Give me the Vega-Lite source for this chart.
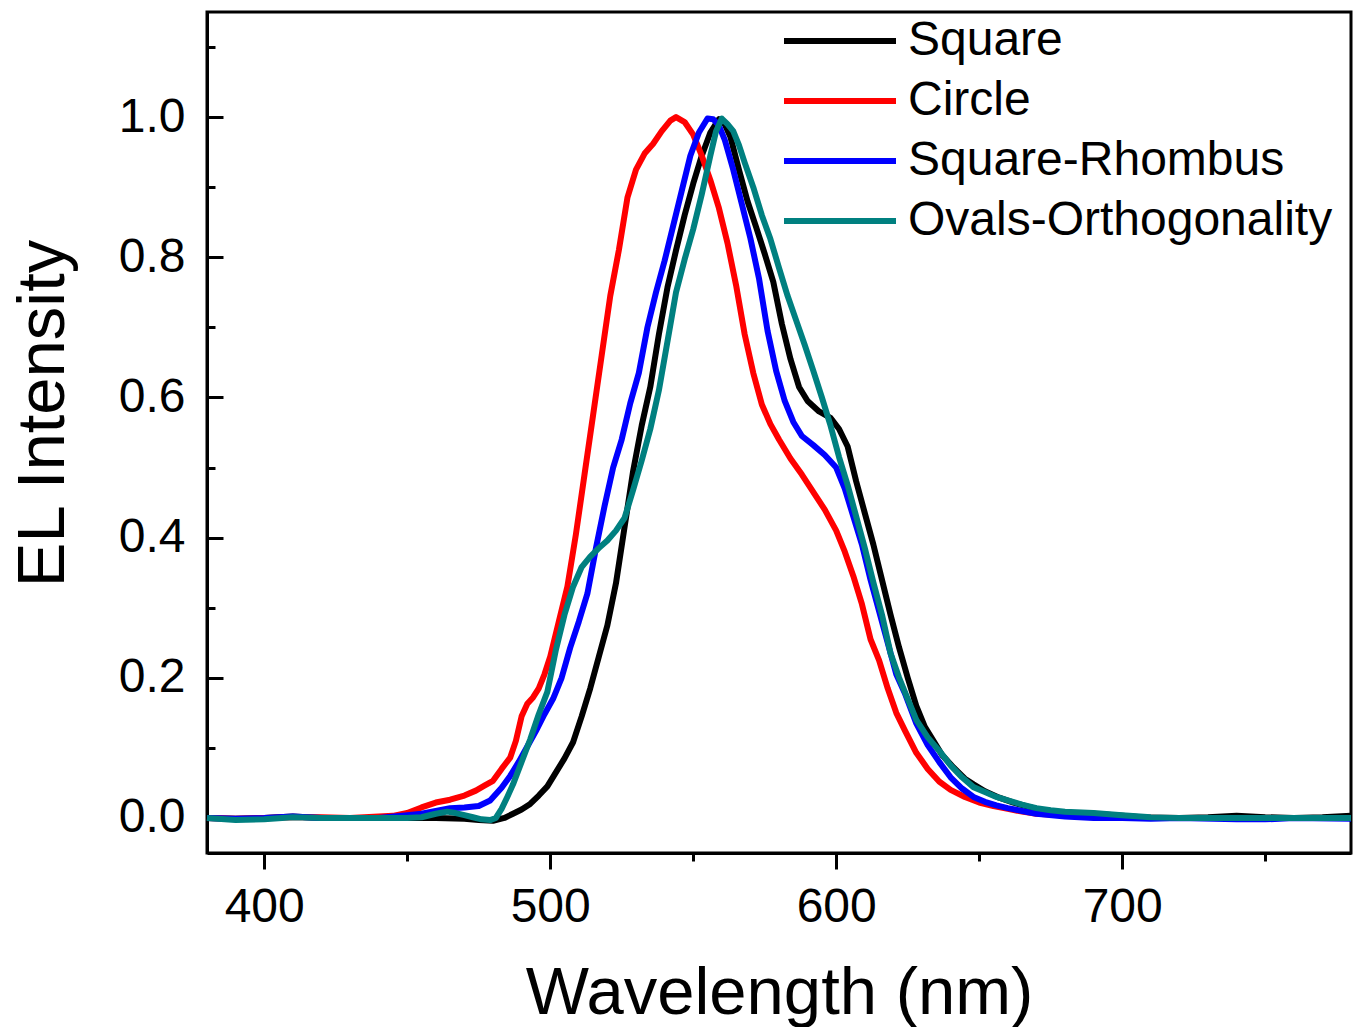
{
  "$schema": "https://vega.github.io/schema/vega-lite/v6.json",
  "width": 1144,
  "height": 841,
  "autosize": "none",
  "padding": {"left": 207, "top": 12, "right": 8, "bottom": 174},
  "background": "white",
  "config": {
    "font": "Liberation Sans",
    "view": {"stroke": "black", "strokeWidth": 3},
    "line": {"strokeWidth": 6, "strokeJoin": "round", "clip": true},
    "axis": {"domainColor": "black", "domainWidth": 3, "tickColor": "black", "tickWidth": 3, "labelColor": "black", "titleColor": "black", "grid": false, "labelFontSize": 48, "titleFontSize": 67, "titleFontWeight": "normal", "labelFont": "Liberation Sans", "titleFont": "Liberation Sans"},
    "legend": {"orient": "none", "legendX": 602, "legendY": -2, "title": null, "symbolType": "M-2,0H2", "symbolSize": 3136, "symbolStrokeWidth": 6, "labelFontSize": 48, "labelFont": "Liberation Sans", "labelColor": "black", "labelOffset": 37, "rowPadding": 5, "labelLimit": 600}
  },
  "datasets": {
    "spectra": [
      {"s":"Square","w":380,"i":0.0},{"s":"Square","w":390,"i":-0.001},{"s":"Square","w":400,"i":0.0},{"s":"Square","w":410,"i":0.002},{"s":"Square","w":420,"i":0.0},{"s":"Square","w":430,"i":0.0},{"s":"Square","w":440,"i":0.0},{"s":"Square","w":450,"i":0.0},{"s":"Square","w":460,"i":0.0},{"s":"Square","w":470,"i":-0.001},{"s":"Square","w":475,"i":-0.003},{"s":"Square","w":480,"i":-0.004},{"s":"Square","w":484,"i":0.0},{"s":"Square","w":487,"i":0.006},{"s":"Square","w":490,"i":0.012},{"s":"Square","w":493,"i":0.02},{"s":"Square","w":496,"i":0.032},{"s":"Square","w":499,"i":0.045},{"s":"Square","w":502,"i":0.065},{"s":"Square","w":505,"i":0.085},{"s":"Square","w":508,"i":0.108},{"s":"Square","w":511,"i":0.145},{"s":"Square","w":514,"i":0.185},{"s":"Square","w":517,"i":0.23},{"s":"Square","w":520,"i":0.275},{"s":"Square","w":523,"i":0.335},{"s":"Square","w":526,"i":0.415},{"s":"Square","w":529,"i":0.495},{"s":"Square","w":532,"i":0.56},{"s":"Square","w":535,"i":0.615},{"s":"Square","w":538,"i":0.69},{"s":"Square","w":541,"i":0.757},{"s":"Square","w":544,"i":0.81},{"s":"Square","w":547,"i":0.86},{"s":"Square","w":550,"i":0.905},{"s":"Square","w":553,"i":0.945},{"s":"Square","w":556,"i":0.978},{"s":"Square","w":559,"i":0.997},{"s":"Square","w":561,"i":0.99},{"s":"Square","w":563,"i":0.972},{"s":"Square","w":566,"i":0.925},{"s":"Square","w":569,"i":0.88},{"s":"Square","w":572,"i":0.843},{"s":"Square","w":575,"i":0.805},{"s":"Square","w":578,"i":0.765},{"s":"Square","w":581,"i":0.705},{"s":"Square","w":584,"i":0.655},{"s":"Square","w":587,"i":0.615},{"s":"Square","w":590,"i":0.595},{"s":"Square","w":594,"i":0.58},{"s":"Square","w":598,"i":0.571},{"s":"Square","w":601,"i":0.555},{"s":"Square","w":604,"i":0.53},{"s":"Square","w":607,"i":0.48},{"s":"Square","w":610,"i":0.435},{"s":"Square","w":613,"i":0.39},{"s":"Square","w":616,"i":0.34},{"s":"Square","w":619,"i":0.29},{"s":"Square","w":622,"i":0.243},{"s":"Square","w":625,"i":0.2},{"s":"Square","w":628,"i":0.16},{"s":"Square","w":631,"i":0.13},{"s":"Square","w":634,"i":0.11},{"s":"Square","w":637,"i":0.09},{"s":"Square","w":641,"i":0.072},{"s":"Square","w":645,"i":0.056},{"s":"Square","w":648,"i":0.048},{"s":"Square","w":652,"i":0.038},{"s":"Square","w":657,"i":0.029},{"s":"Square","w":662,"i":0.022},{"s":"Square","w":667,"i":0.016},{"s":"Square","w":672,"i":0.011},{"s":"Square","w":680,"i":0.007},{"s":"Square","w":690,"i":0.006},{"s":"Square","w":700,"i":0.003},{"s":"Square","w":710,"i":0.0},{"s":"Square","w":720,"i":0.0},{"s":"Square","w":730,"i":0.001},{"s":"Square","w":740,"i":0.003},{"s":"Square","w":750,"i":0.001},{"s":"Square","w":760,"i":0.0},{"s":"Square","w":770,"i":0.001},{"s":"Square","w":780,"i":0.003},
      {"s":"Circle","w":380,"i":0.0},{"s":"Circle","w":390,"i":-0.001},{"s":"Circle","w":400,"i":0.0},{"s":"Circle","w":410,"i":0.001},{"s":"Circle","w":420,"i":0.001},{"s":"Circle","w":430,"i":0.0},{"s":"Circle","w":440,"i":0.002},{"s":"Circle","w":445,"i":0.003},{"s":"Circle","w":450,"i":0.007},{"s":"Circle","w":455,"i":0.015},{"s":"Circle","w":460,"i":0.022},{"s":"Circle","w":465,"i":0.026},{"s":"Circle","w":470,"i":0.032},{"s":"Circle","w":474,"i":0.039},{"s":"Circle","w":477,"i":0.046},{"s":"Circle","w":480,"i":0.053},{"s":"Circle","w":483,"i":0.07},{"s":"Circle","w":486,"i":0.086},{"s":"Circle","w":488,"i":0.11},{"s":"Circle","w":490,"i":0.145},{"s":"Circle","w":492,"i":0.163},{"s":"Circle","w":494,"i":0.172},{"s":"Circle","w":496,"i":0.185},{"s":"Circle","w":498,"i":0.205},{"s":"Circle","w":500,"i":0.23},{"s":"Circle","w":503,"i":0.28},{"s":"Circle","w":506,"i":0.33},{"s":"Circle","w":509,"i":0.405},{"s":"Circle","w":512,"i":0.49},{"s":"Circle","w":515,"i":0.575},{"s":"Circle","w":518,"i":0.66},{"s":"Circle","w":521,"i":0.745},{"s":"Circle","w":524,"i":0.81},{"s":"Circle","w":527,"i":0.885},{"s":"Circle","w":530,"i":0.925},{"s":"Circle","w":533,"i":0.948},{"s":"Circle","w":536,"i":0.962},{"s":"Circle","w":539,"i":0.98},{"s":"Circle","w":542,"i":0.995},{"s":"Circle","w":544,"i":1.0},{"s":"Circle","w":547,"i":0.993},{"s":"Circle","w":550,"i":0.975},{"s":"Circle","w":553,"i":0.945},{"s":"Circle","w":556,"i":0.91},{"s":"Circle","w":559,"i":0.87},{"s":"Circle","w":562,"i":0.82},{"s":"Circle","w":565,"i":0.76},{"s":"Circle","w":568,"i":0.69},{"s":"Circle","w":571,"i":0.635},{"s":"Circle","w":574,"i":0.59},{"s":"Circle","w":577,"i":0.562},{"s":"Circle","w":580,"i":0.54},{"s":"Circle","w":584,"i":0.513},{"s":"Circle","w":588,"i":0.49},{"s":"Circle","w":592,"i":0.465},{"s":"Circle","w":596,"i":0.44},{"s":"Circle","w":600,"i":0.41},{"s":"Circle","w":603,"i":0.38},{"s":"Circle","w":606,"i":0.345},{"s":"Circle","w":609,"i":0.305},{"s":"Circle","w":612,"i":0.255},{"s":"Circle","w":615,"i":0.225},{"s":"Circle","w":618,"i":0.185},{"s":"Circle","w":621,"i":0.15},{"s":"Circle","w":624,"i":0.125},{"s":"Circle","w":628,"i":0.093},{"s":"Circle","w":632,"i":0.07},{"s":"Circle","w":636,"i":0.052},{"s":"Circle","w":640,"i":0.04},{"s":"Circle","w":645,"i":0.03},{"s":"Circle","w":650,"i":0.022},{"s":"Circle","w":655,"i":0.017},{"s":"Circle","w":660,"i":0.013},{"s":"Circle","w":665,"i":0.009},{"s":"Circle","w":670,"i":0.006},{"s":"Circle","w":680,"i":0.004},{"s":"Circle","w":690,"i":0.003},{"s":"Circle","w":700,"i":0.001},{"s":"Circle","w":720,"i":0.0},{"s":"Circle","w":740,"i":0.0},{"s":"Circle","w":760,"i":0.0},{"s":"Circle","w":780,"i":0.0},
      {"s":"Square-Rhombus","w":380,"i":0.0},{"s":"Square-Rhombus","w":390,"i":-0.001},{"s":"Square-Rhombus","w":400,"i":0.0},{"s":"Square-Rhombus","w":410,"i":0.002},{"s":"Square-Rhombus","w":420,"i":0.0},{"s":"Square-Rhombus","w":430,"i":0.0},{"s":"Square-Rhombus","w":440,"i":0.0},{"s":"Square-Rhombus","w":450,"i":0.004},{"s":"Square-Rhombus","w":455,"i":0.006},{"s":"Square-Rhombus","w":460,"i":0.01},{"s":"Square-Rhombus","w":465,"i":0.014},{"s":"Square-Rhombus","w":470,"i":0.015},{"s":"Square-Rhombus","w":475,"i":0.017},{"s":"Square-Rhombus","w":479,"i":0.025},{"s":"Square-Rhombus","w":483,"i":0.043},{"s":"Square-Rhombus","w":486,"i":0.06},{"s":"Square-Rhombus","w":489,"i":0.08},{"s":"Square-Rhombus","w":492,"i":0.102},{"s":"Square-Rhombus","w":495,"i":0.124},{"s":"Square-Rhombus","w":498,"i":0.148},{"s":"Square-Rhombus","w":501,"i":0.17},{"s":"Square-Rhombus","w":504,"i":0.2},{"s":"Square-Rhombus","w":507,"i":0.243},{"s":"Square-Rhombus","w":510,"i":0.28},{"s":"Square-Rhombus","w":513,"i":0.32},{"s":"Square-Rhombus","w":516,"i":0.385},{"s":"Square-Rhombus","w":519,"i":0.445},{"s":"Square-Rhombus","w":522,"i":0.5},{"s":"Square-Rhombus","w":525,"i":0.54},{"s":"Square-Rhombus","w":528,"i":0.592},{"s":"Square-Rhombus","w":531,"i":0.635},{"s":"Square-Rhombus","w":534,"i":0.7},{"s":"Square-Rhombus","w":537,"i":0.75},{"s":"Square-Rhombus","w":540,"i":0.795},{"s":"Square-Rhombus","w":543,"i":0.845},{"s":"Square-Rhombus","w":546,"i":0.895},{"s":"Square-Rhombus","w":549,"i":0.945},{"s":"Square-Rhombus","w":552,"i":0.978},{"s":"Square-Rhombus","w":555,"i":0.998},{"s":"Square-Rhombus","w":557,"i":0.997},{"s":"Square-Rhombus","w":559,"i":0.988},{"s":"Square-Rhombus","w":561,"i":0.968},{"s":"Square-Rhombus","w":564,"i":0.925},{"s":"Square-Rhombus","w":567,"i":0.876},{"s":"Square-Rhombus","w":570,"i":0.827},{"s":"Square-Rhombus","w":573,"i":0.77},{"s":"Square-Rhombus","w":576,"i":0.695},{"s":"Square-Rhombus","w":579,"i":0.638},{"s":"Square-Rhombus","w":582,"i":0.595},{"s":"Square-Rhombus","w":585,"i":0.565},{"s":"Square-Rhombus","w":588,"i":0.545},{"s":"Square-Rhombus","w":592,"i":0.532},{"s":"Square-Rhombus","w":596,"i":0.518},{"s":"Square-Rhombus","w":600,"i":0.5},{"s":"Square-Rhombus","w":603,"i":0.47},{"s":"Square-Rhombus","w":606,"i":0.43},{"s":"Square-Rhombus","w":609,"i":0.39},{"s":"Square-Rhombus","w":612,"i":0.34},{"s":"Square-Rhombus","w":615,"i":0.295},{"s":"Square-Rhombus","w":618,"i":0.25},{"s":"Square-Rhombus","w":621,"i":0.205},{"s":"Square-Rhombus","w":624,"i":0.178},{"s":"Square-Rhombus","w":628,"i":0.135},{"s":"Square-Rhombus","w":632,"i":0.104},{"s":"Square-Rhombus","w":636,"i":0.08},{"s":"Square-Rhombus","w":640,"i":0.058},{"s":"Square-Rhombus","w":644,"i":0.042},{"s":"Square-Rhombus","w":648,"i":0.03},{"s":"Square-Rhombus","w":652,"i":0.023},{"s":"Square-Rhombus","w":656,"i":0.018},{"s":"Square-Rhombus","w":660,"i":0.014},{"s":"Square-Rhombus","w":665,"i":0.01},{"s":"Square-Rhombus","w":670,"i":0.006},{"s":"Square-Rhombus","w":680,"i":0.002},{"s":"Square-Rhombus","w":690,"i":0.0},{"s":"Square-Rhombus","w":700,"i":0.0},{"s":"Square-Rhombus","w":710,"i":-0.001},{"s":"Square-Rhombus","w":720,"i":0.0},{"s":"Square-Rhombus","w":740,"i":-0.002},{"s":"Square-Rhombus","w":750,"i":-0.002},{"s":"Square-Rhombus","w":760,"i":0.0},{"s":"Square-Rhombus","w":780,"i":-0.001},
      {"s":"Ovals-Orthogonality","w":380,"i":0.0},{"s":"Ovals-Orthogonality","w":390,"i":-0.003},{"s":"Ovals-Orthogonality","w":400,"i":-0.002},{"s":"Ovals-Orthogonality","w":410,"i":0.001},{"s":"Ovals-Orthogonality","w":420,"i":0.0},{"s":"Ovals-Orthogonality","w":430,"i":0.0},{"s":"Ovals-Orthogonality","w":440,"i":0.0},{"s":"Ovals-Orthogonality","w":450,"i":0.0},{"s":"Ovals-Orthogonality","w":455,"i":0.001},{"s":"Ovals-Orthogonality","w":460,"i":0.006},{"s":"Ovals-Orthogonality","w":464,"i":0.009},{"s":"Ovals-Orthogonality","w":467,"i":0.007},{"s":"Ovals-Orthogonality","w":470,"i":0.004},{"s":"Ovals-Orthogonality","w":473,"i":0.001},{"s":"Ovals-Orthogonality","w":476,"i":-0.002},{"s":"Ovals-Orthogonality","w":479,"i":-0.003},{"s":"Ovals-Orthogonality","w":481,"i":0.0},{"s":"Ovals-Orthogonality","w":483,"i":0.013},{"s":"Ovals-Orthogonality","w":485,"i":0.03},{"s":"Ovals-Orthogonality","w":487,"i":0.048},{"s":"Ovals-Orthogonality","w":490,"i":0.08},{"s":"Ovals-Orthogonality","w":493,"i":0.112},{"s":"Ovals-Orthogonality","w":496,"i":0.148},{"s":"Ovals-Orthogonality","w":499,"i":0.18},{"s":"Ovals-Orthogonality","w":502,"i":0.24},{"s":"Ovals-Orthogonality","w":505,"i":0.29},{"s":"Ovals-Orthogonality","w":508,"i":0.33},{"s":"Ovals-Orthogonality","w":511,"i":0.358},{"s":"Ovals-Orthogonality","w":514,"i":0.373},{"s":"Ovals-Orthogonality","w":517,"i":0.385},{"s":"Ovals-Orthogonality","w":520,"i":0.396},{"s":"Ovals-Orthogonality","w":523,"i":0.41},{"s":"Ovals-Orthogonality","w":526,"i":0.428},{"s":"Ovals-Orthogonality","w":529,"i":0.468},{"s":"Ovals-Orthogonality","w":532,"i":0.51},{"s":"Ovals-Orthogonality","w":535,"i":0.555},{"s":"Ovals-Orthogonality","w":538,"i":0.61},{"s":"Ovals-Orthogonality","w":541,"i":0.68},{"s":"Ovals-Orthogonality","w":544,"i":0.75},{"s":"Ovals-Orthogonality","w":547,"i":0.797},{"s":"Ovals-Orthogonality","w":550,"i":0.84},{"s":"Ovals-Orthogonality","w":553,"i":0.89},{"s":"Ovals-Orthogonality","w":556,"i":0.945},{"s":"Ovals-Orthogonality","w":558,"i":0.98},{"s":"Ovals-Orthogonality","w":560,"i":0.998},{"s":"Ovals-Orthogonality","w":562,"i":0.99},{"s":"Ovals-Orthogonality","w":564,"i":0.98},{"s":"Ovals-Orthogonality","w":566,"i":0.96},{"s":"Ovals-Orthogonality","w":568,"i":0.935},{"s":"Ovals-Orthogonality","w":571,"i":0.9},{"s":"Ovals-Orthogonality","w":574,"i":0.86},{"s":"Ovals-Orthogonality","w":577,"i":0.826},{"s":"Ovals-Orthogonality","w":580,"i":0.785},{"s":"Ovals-Orthogonality","w":583,"i":0.745},{"s":"Ovals-Orthogonality","w":586,"i":0.71},{"s":"Ovals-Orthogonality","w":589,"i":0.675},{"s":"Ovals-Orthogonality","w":592,"i":0.638},{"s":"Ovals-Orthogonality","w":595,"i":0.6},{"s":"Ovals-Orthogonality","w":598,"i":0.56},{"s":"Ovals-Orthogonality","w":601,"i":0.515},{"s":"Ovals-Orthogonality","w":604,"i":0.475},{"s":"Ovals-Orthogonality","w":607,"i":0.43},{"s":"Ovals-Orthogonality","w":610,"i":0.385},{"s":"Ovals-Orthogonality","w":613,"i":0.336},{"s":"Ovals-Orthogonality","w":616,"i":0.29},{"s":"Ovals-Orthogonality","w":619,"i":0.235},{"s":"Ovals-Orthogonality","w":622,"i":0.2},{"s":"Ovals-Orthogonality","w":625,"i":0.17},{"s":"Ovals-Orthogonality","w":628,"i":0.14},{"s":"Ovals-Orthogonality","w":632,"i":0.115},{"s":"Ovals-Orthogonality","w":636,"i":0.096},{"s":"Ovals-Orthogonality","w":640,"i":0.075},{"s":"Ovals-Orthogonality","w":644,"i":0.058},{"s":"Ovals-Orthogonality","w":648,"i":0.044},{"s":"Ovals-Orthogonality","w":652,"i":0.037},{"s":"Ovals-Orthogonality","w":656,"i":0.03},{"s":"Ovals-Orthogonality","w":660,"i":0.025},{"s":"Ovals-Orthogonality","w":665,"i":0.019},{"s":"Ovals-Orthogonality","w":670,"i":0.014},{"s":"Ovals-Orthogonality","w":675,"i":0.011},{"s":"Ovals-Orthogonality","w":680,"i":0.009},{"s":"Ovals-Orthogonality","w":690,"i":0.007},{"s":"Ovals-Orthogonality","w":700,"i":0.004},{"s":"Ovals-Orthogonality","w":710,"i":0.001},{"s":"Ovals-Orthogonality","w":720,"i":0.0},{"s":"Ovals-Orthogonality","w":740,"i":0.0},{"s":"Ovals-Orthogonality","w":760,"i":0.0},{"s":"Ovals-Orthogonality","w":780,"i":0.0}
    ]
  },
  "data": {"name": "spectra"},
  "encoding": {
    "x": {"field": "w", "type": "quantitative", "scale": {"domain": [380, 780], "nice": false, "zero": false}},
    "y": {"field": "i", "type": "quantitative", "scale": {"domain": [-0.05, 1.15], "nice": false, "zero": false}},
    "color": {"field": "s", "type": "nominal",
      "scale": {"domain": ["Square", "Circle", "Square-Rhombus", "Ovals-Orthogonality"], "range": ["#000000", "#ff0000", "#0000ff", "#008080"]}}
  },
  "layer": [
    {
      "transform": [{"filter": "datum.s === 'Square'"}],
      "mark": "line",
      "encoding": {
        "x": {"field": "w", "type": "quantitative",
          "axis": {"orient": "bottom", "values": [400, 500, 600, 700], "tickSize": 16, "labelPadding": 14, "title": "Wavelength (nm)", "titleY": 160, "titleBaseline": "alphabetic"}},
        "y": {"field": "i", "type": "quantitative",
          "axis": {"orient": "left", "values": [0, 0.2, 0.4, 0.6, 0.8, 1.0], "format": ".1f", "tickSize": -16, "labelPadding": 38, "title": "EL Intensity", "titleX": -144, "titleY": 401, "titleAngle": -90, "titleAlign": "center", "titleBaseline": "alphabetic"}}
      }
    },
    {
      "transform": [{"filter": "datum.s === 'Circle'"}],
      "mark": "line",
      "encoding": {
        "x": {"field": "w", "type": "quantitative", "axis": null},
        "y": {"field": "i", "type": "quantitative", "axis": null}
      }
    },
    {
      "transform": [{"filter": "datum.s === 'Square-Rhombus'"}],
      "mark": "line",
      "encoding": {
        "x": {"field": "w", "type": "quantitative", "axis": null},
        "y": {"field": "i", "type": "quantitative", "axis": null}
      }
    },
    {
      "transform": [{"filter": "datum.s === 'Ovals-Orthogonality'"}],
      "mark": "line",
      "encoding": {
        "x": {"field": "w", "type": "quantitative", "axis": null},
        "y": {"field": "i", "type": "quantitative", "axis": null}
      }
    },
    {
      "mark": {"type": "line", "strokeOpacity": 0},
      "encoding": {
        "x": {"field": "w", "type": "quantitative",
          "axis": {"orient": "bottom", "values": [450, 550, 650, 750], "tickSize": 8, "labels": false, "domain": false, "title": null}},
        "y": {"field": "i", "type": "quantitative",
          "axis": {"orient": "left", "values": [0.1, 0.3, 0.5, 0.7, 0.9, 1.1], "tickSize": -8, "labels": false, "domain": false, "title": null}},
        "color": {"value": "black"},
        "detail": {"field": "s", "type": "nominal"}
      }
    }
  ],
  "resolve": {"axis": {"x": "independent", "y": "independent"}}
}
